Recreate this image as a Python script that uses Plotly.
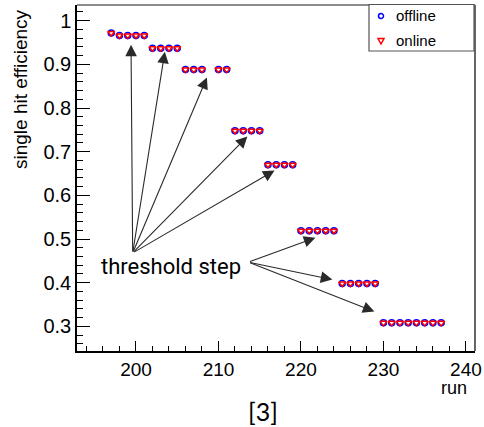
import plotly.graph_objects as go

runs = [197, 198, 199, 200, 201,
        202, 203, 204, 205,
        206, 207, 208, 210, 211,
        212, 213, 214, 215,
        216, 217, 218, 219,
        220, 221, 222, 223, 224,
        225, 226, 227, 228, 229,
        230, 231, 232, 233, 234, 235, 236, 237]
offline = [0.972, 0.966, 0.966, 0.966, 0.966,
           0.937, 0.937, 0.937, 0.937,
           0.888, 0.888, 0.888, 0.888, 0.888,
           0.748, 0.748, 0.748, 0.748,
           0.670, 0.670, 0.670, 0.670,
           0.519, 0.519, 0.519, 0.519, 0.519,
           0.398, 0.398, 0.398, 0.398, 0.398,
           0.308, 0.308, 0.308, 0.308, 0.308, 0.308, 0.308, 0.308]
online = list(offline)
series_names = ["offline", "online"]

# arrows: (tail_x, tail_y, tip_x, tip_y) in data units
arrows = [
    (199.6, 0.468, 199.4, 0.945),
    (199.6, 0.468, 203.5, 0.929),
    (199.6, 0.468, 208.6, 0.870),
    (199.6, 0.468, 213.5, 0.735),
    (199.6, 0.468, 216.8, 0.657),
    (213.65, 0.447, 221.75, 0.503),
    (213.65, 0.447, 223.8, 0.407),
    (213.65, 0.447, 228.9, 0.334),
]

L, R, T, B = 77, 9, 5, 76
W, H = 484, 427
PW, PH = W - L - R, H - T - B


def px(xp):
    return (xp - L) / PW


def py(yp):
    return (H - B - yp) / PH


fig = go.Figure()
fig.add_trace(go.Scatter(x=runs, y=offline, mode="markers", name=series_names[0],
                         showlegend=False,
                         marker=dict(symbol="circle-open", color="blue", size=6,
                                     line=dict(width=1.5, color="blue"))))
fig.add_trace(go.Scatter(x=runs, y=online, mode="markers", name=series_names[1],
                         showlegend=False,
                         marker=dict(symbol="triangle-down-open", color="red", size=6,
                                     line=dict(width=1.5, color="red"))))

for tx, ty, hx, hy in arrows:
    fig.add_annotation(x=hx, y=hy, ax=tx, ay=ty, xref="x", yref="y",
                       axref="x", ayref="y", text="", showarrow=True,
                       arrowhead=2, arrowsize=2.1, arrowwidth=1.1,
                       arrowcolor="#2a2a2a", standoff=0, startstandoff=0)

fig.add_annotation(x=204.3, y=0.438, xref="x", yref="y", text="threshold step",
                   showarrow=False, font=dict(family="Roboto", size=22, color="black"))

fig.add_annotation(x=px(468), y=py(388), xref="paper", yref="paper", text="run",
                   showarrow=False, xanchor="right", yanchor="middle", borderpad=0,
                   font=dict(family="Liberation Sans", size=18, color="black"))
fig.add_annotation(x=px(263), y=py(411), xref="paper", yref="paper", text="[3]",
                   showarrow=False, xanchor="center", yanchor="middle",
                   font=dict(family="Lato", size=25, color="black"))
fig.add_annotation(x=px(20), y=py(89), xref="paper", yref="paper", text="single hit efficiency",
                   textangle=-90, showarrow=False, xanchor="center", yanchor="middle",
                   font=dict(family="Liberation Sans", size=19, color="black"))

# frame top/right in gray
fig.add_shape(type="line", xref="paper", yref="paper", x0=0, x1=1, y0=1, y1=1,
              line=dict(color="#666", width=1.5))
fig.add_shape(type="line", xref="paper", yref="paper", x0=1, x1=1, y0=0, y1=1,
              line=dict(color="#666", width=2))

# legend box (ROOT style)
fig.add_shape(type="rect", xref="paper", yref="paper",
              x0=px(369), x1=px(474), y0=py(51), y1=py(4.5),
              line=dict(color="#555", width=1.2), fillcolor="white")
fig.add_shape(type="circle", xref="paper", yref="paper", xsizemode="pixel", ysizemode="pixel",
              xanchor=px(381), yanchor=py(16), x0=-2.5, x1=2.5, y0=-2.5, y1=2.5,
              line=dict(color="blue", width=1.5))
fig.add_shape(type="path", xref="paper", yref="paper", xsizemode="pixel", ysizemode="pixel",
              xanchor=px(381), yanchor=py(41), path="M -3 2.5 L 3 2.5 L 0 -3 Z",
              line=dict(color="red", width=1.5))
fig.add_annotation(x=px(394), y=py(16), xref="paper", yref="paper", text=series_names[0],
                   showarrow=False, xanchor="left", yanchor="middle",
                   font=dict(family="Liberation Sans", size=15, color="black"))
fig.add_annotation(x=px(394), y=py(41), xref="paper", yref="paper", text=series_names[1],
                   showarrow=False, xanchor="left", yanchor="middle",
                   font=dict(family="Liberation Sans", size=15, color="black"))

fig.update_xaxes(range=[192.85, 241.1], dtick=10, tick0=200, ticks="inside", ticklen=10,
                 tickcolor="black", tickwidth=1,
                 minor=dict(dtick=2, ticks="inside", ticklen=5, tickcolor="black"),
                 showgrid=False, zeroline=False, showline=True, linecolor="black",
                 linewidth=1.5,
                 tickfont=dict(family="Liberation Sans", size=19, color="black"))
fig.update_yaxes(range=[0.2435, 1.036], dtick=0.1, tick0=0, ticks="inside", ticklen=13,
                 tickcolor="black", tickwidth=1,
                 minor=dict(dtick=0.02, ticks="inside", ticklen=6, tickcolor="black"),
                 showgrid=False, zeroline=False, showline=True, linecolor="black",
                 linewidth=1.5,
                 tickfont=dict(family="Liberation Sans", size=20, color="black"))

fig.update_layout(width=W, height=H,
                  margin=dict(l=L, r=R, t=T, b=B, autoexpand=False),
                  plot_bgcolor="white", paper_bgcolor="white",
                  showlegend=False)

fig.write_html("out.html", config={"displayModeBar": False},
               post_script="document.body.style.margin='0';")
